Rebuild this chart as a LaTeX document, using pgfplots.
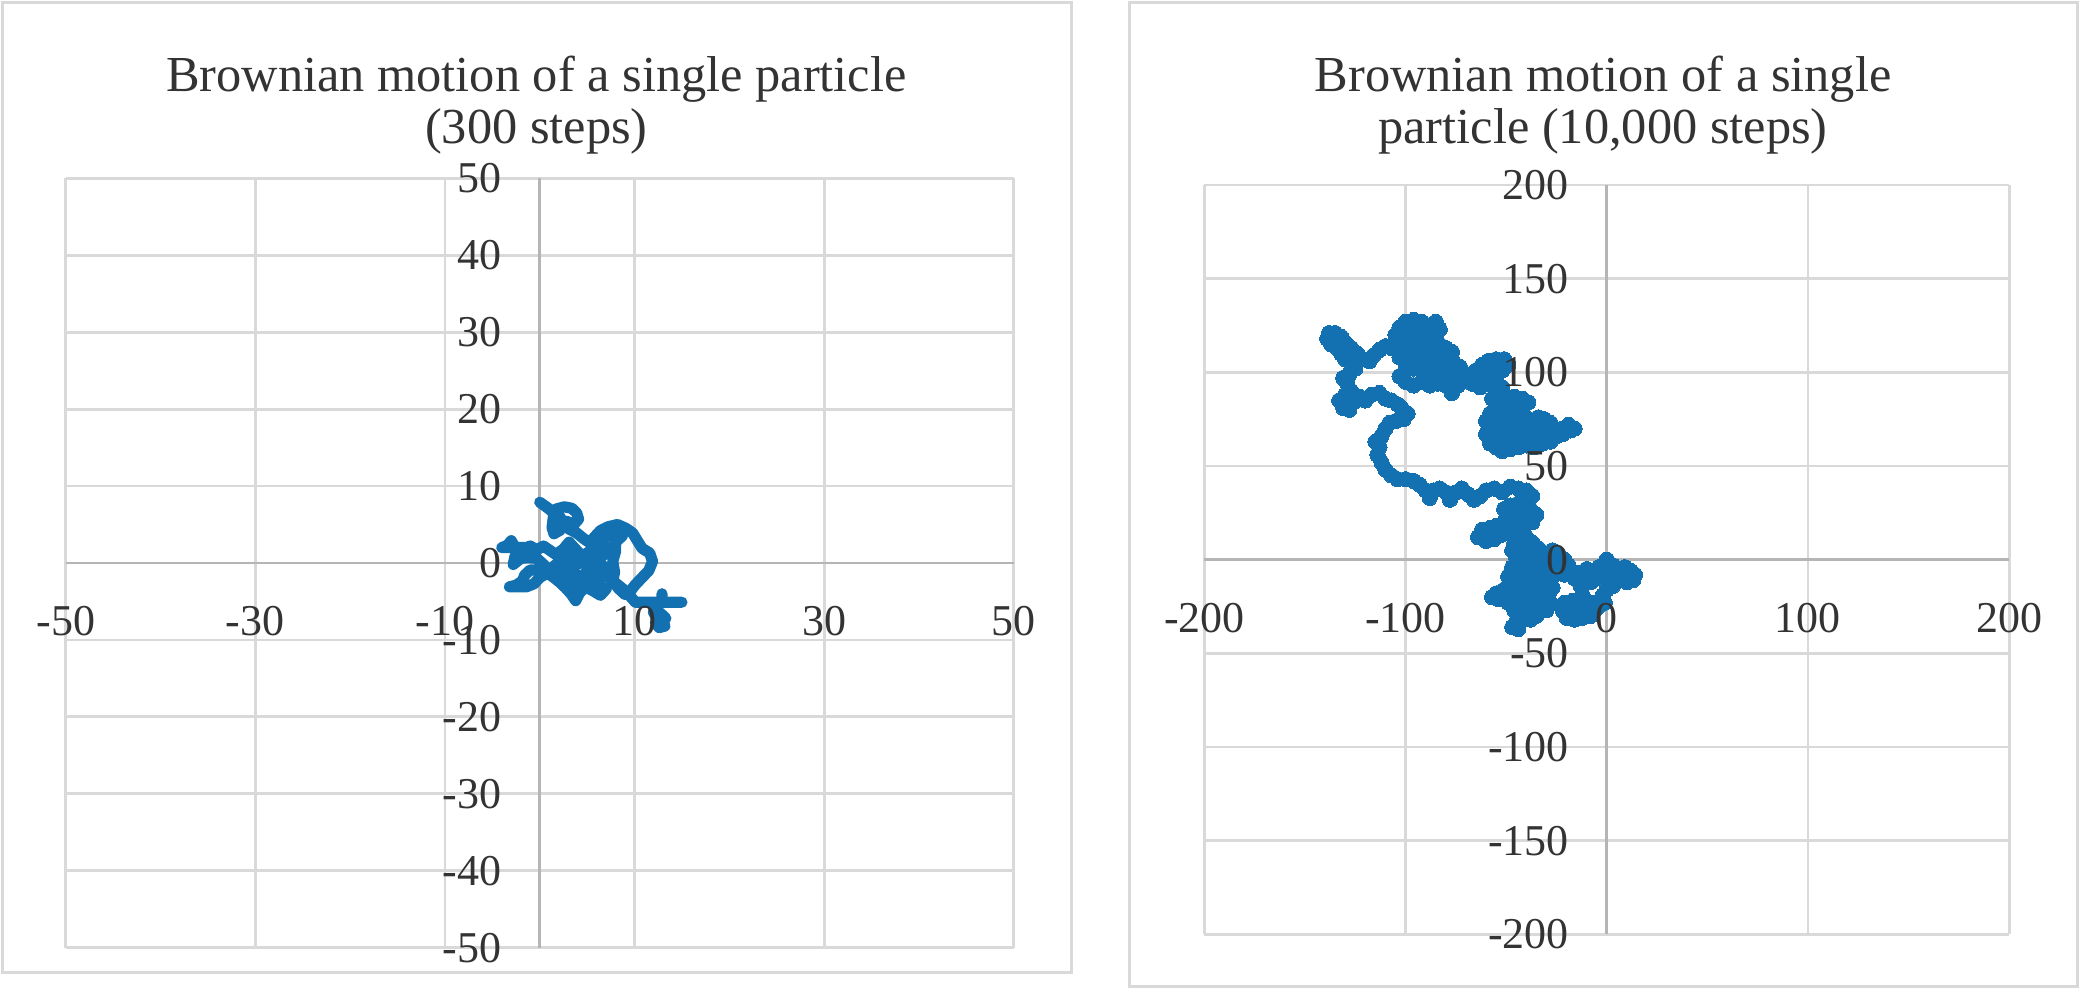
\documentclass[border=0pt]{standalone}
\usepackage{fontspec}
\setmainfont{Liberation Serif}
\usepackage{pgfplots}
\pgfplotsset{compat=1.18}
\definecolor{textgray}{HTML}{333333}
\definecolor{gridgray}{HTML}{D9D9D9}
\definecolor{axisgray}{HTML}{B5B5B5}
\definecolor{series}{HTML}{1471B1}
\pgfplotsset{
  bmbase/.style={
    scale only axis, anchor=south west,
    axis lines=middle,
    major tick length=0pt,
    hide obscured x ticks=false, hide obscured y ticks=false,
    tick label style={font=\fontsize{11}{13}\selectfont, text=textgray},
    xticklabel style={anchor=north, yshift=-7.3pt},
    yticklabel style={anchor=east, xshift=-6pt},
  },
  bmgrid/.style={bmbase,
    axis line style={-, draw=axisgray, line width=0.7pt},
    grid=major, major grid style={draw=gridgray, line width=0.7pt},
    xticklabels={}, yticklabels={},
  },
  bmlabels/.style={bmbase,
    axis line style={draw=none},
    grid=none,
  }
}
\begin{document}
\begin{tikzpicture}
\useasboundingbox (0,0) rectangle (520pt,247.25pt);
\draw[gridgray, line width=0.75pt] (0.5pt,4.25pt) rectangle (267.75pt,246.75pt);
\draw[gridgray, line width=0.75pt] (282.3pt,0.75pt) rectangle (519.25pt,246.75pt);
\node[anchor=base, text=textgray, font=\fontsize{12.6}{15}\selectfont] at (134.1pt,224.5pt) {Brownian motion of a single particle};
\node[anchor=base, text=textgray, font=\fontsize{12.6}{15}\selectfont] at (134.1pt,211.4pt) {(300 steps)};
\node[anchor=base, text=textgray, font=\fontsize{12.6}{15}\selectfont] at (400.75pt,224.5pt) {Brownian motion of a single};
\node[anchor=base, text=textgray, font=\fontsize{12.6}{15}\selectfont] at (400.75pt,211.4pt) {particle (10,000 steps)};

% ---------- left chart: 300 steps ----------
\begin{axis}[bmgrid, at={(16.43pt,10.33pt)}, width=237pt, height=192.35pt,
  xmin=-50, xmax=50, ymin=-50, ymax=50,
  xtick={-50,-30,-10,10,30,50},
  ytick={-50,-40,-30,-20,-10,0,10,20,30,40,50}]
\addplot[series, line width=2.8pt, line join=round, line cap=round] coordinates {
(0,7.9) (0.8,7.2) (1.5,6.5) (1.4,5.6) (1.3,4.6) (1.5,3.8) (2.2,4.3) (2.5,5.3) (2.0,6.2) (1.7,7.0)
(2.6,7.3) (3.4,7.1) (3.9,6.5) (4.1,5.7) (3.6,5.0) (2.9,5.4) (3.1,4.4) (3.9,3.9) (4.6,3.2) (5.3,2.6)
(5.8,3.4) (6.4,4.2) (7.2,4.7) (8.2,5.0) (9.1,4.5) (9.8,3.9) (10.3,2.9) (10.8,1.9) (11.6,1.3) (11.9,0.2)
(11.5,-1.0) (10.8,-1.9) (10.1,-2.8) (9.6,-3.6) (9.0,-4.1) (8.3,-3.3) (7.7,-2.3) (7.9,-1.2) (7.7,0.2) (8.0,1.5)
(8.0,2.7) (8.7,3.5) (7.9,4.0) (7.1,3.5) (6.5,2.6) (7.3,1.8) (6.7,1.0) (6.0,0.3) (6.8,-0.5) (7.4,-1.3)
(6.6,-1.9) (5.8,-1.1) (5.0,-0.3) (4.3,0.5) (5.0,1.3) (5.8,1.9) (6.4,1.1) (5.8,0.2) (5.2,-0.9) (4.5,-1.7)
(5.3,-2.5) (6.1,-2.9) (7.0,-3.4) (6.4,-4.2) (5.6,-3.6) (4.8,-3.1) (4.2,-3.9) (3.8,-4.9) (3.3,-4.0) (2.7,-3.2)
(2.1,-2.5) (1.5,-1.9) (0.8,-1.3) (0.0,-1.9) (-0.6,-2.7) (-1.4,-3.1) (-2.3,-3.1) (-3.2,-3.1) (-2.5,-2.9) (-1.8,-2.3)
(-1.6,-1.6) (-1.0,-0.9) (-0.2,-0.9) (0.5,-0.3) (-0.3,0.6) (-1.2,0.7) (-2.0,0.6) (-2.8,-0.2) (-2.6,0.9) (-2.0,1.6)
(-1.4,2.0) (-2.2,2.0) (-3.0,2.0) (-4.0,2.0) (-3.4,2.3) (-3.0,2.9) (-2.7,2.2) (-1.8,1.8) (-1.0,2.2) (-0.3,1.7)
(0.4,2.2) (1.0,1.7) (1.7,1.1) (2.5,1.8) (3.1,2.7) (3.7,1.9) (4.3,1.1) (3.6,0.3) (2.9,-0.4) (3.6,-1.2)
(4.4,-2.2) (3.6,-2.8) (2.8,-2.0) (2.2,-1.2) (1.5,-0.4) (2.3,0.3) (3.1,0.9) (4.0,-0.2) (4.8,0.6) (5.5,1.2)
(6.2,2.0) (5.5,-0.2) (6.3,-1.0) (5.5,-1.6) (5.0,0.6) (5.8,-0.4) (6.6,-1.2) (7.4,-2.0) (8.2,-2.8) (9.0,-3.6)
(9.6,-4.4) (10.1,-5.1) (11.0,-5.1) (12.0,-5.1) (12.9,-5.1) (12.9,-4.0) (12.9,-5.1) (14.0,-5.1) (15.0,-5.1) (14.0,-5.1)
(13.0,-5.1) (12.2,-5.6) (12.0,-6.4) (12.4,-7.2) (12.9,-7.8) (13.3,-7.2) (12.8,-6.6) (12.4,-7.6) (13.2,-8.2) (12.6,-8.4)
(12.2,-7.8)
};
\end{axis}
\begin{axis}[bmlabels, at={(16.43pt,10.33pt)}, width=237pt, height=192.35pt,
  xmin=-50, xmax=50, ymin=-50, ymax=50,
  xtick={-50,-30,-10,10,30,50}, xticklabels={-50,-30,-10,10,30,50},
  ytick={-50,-40,-30,-20,-10,0,10,20,30,40,50},
  yticklabels={-50,-40,-30,-20,-10,0,10,20,30,40,50}]
\end{axis}

% ---------- right chart: 10,000 steps ----------
\begin{axis}[bmgrid, at={(301.1pt,13.68pt)}, width=201.2pt, height=187.3pt,
  xmin=-200, xmax=200, ymin=-200, ymax=200,
  xtick={-200,-100,0,100,200},
  ytick={-200,-150,-100,-50,0,50,100,150,200}]
\addplot[series, line width=3.3pt, line join=round, line cap=round, mark=*, mark size=1.9pt, mark options={draw=series, fill=series, line width=0pt}] coordinates {
(0,0) (3,-3) (6,-5) (9,-4) (12,-6) (14,-8) (13,-11) (10,-12) (7,-10) (4,-12)
(1,-10) (-2,-8) (-5,-10) (-8,-12) (-11,-10) (-13,-7) (-10,-5) (-7,-6) (-4,-4) (-1,-5)
(2,-7) (5,-8) (3,-14) (0,-16) (-2,-19) (-1,-23) (-4,-25) (-7,-23) (-10,-24) (-13,-22)
(-17,-22) (-21,-23) (-22,-27) (-20,-31) (-16,-32) (-12,-31) (-8,-30) (-6,-27) (-10,-27) (-14,-28)
(-18,-27) (-15,-24) (-12,-19) (-13,-14) (-16,-10) (-18,-6) (-21,-8) (-24,-5) (-27,-2) (-29,2)
(-27,5) (-24,3) (-21,0) (-19,-3) (-22,-6) (-26,-8) (-29,-6) (-31,-9) (-34,-5) (-37,-1)
(-40,3) (-43,6) (-46,9) (-44,13) (-40,12) (-37,9) (-34,6) (-31,2) (-33,-3) (-36,-7)
(-39,-4) (-42,-1) (-45,1) (-47,5) (-44,8) (-41,-6) (-38,-10) (-35,-13) (-32,-16) (-29,-19)
(-28,-23) (-30,-27) (-33,-25) (-36,-22) (-39,-18) (-42,-14) (-45,-11) (-48,-13) (-51,-16) (-55,-18)
(-57,-20) (-54,-21) (-50,-20) (-47,-22) (-44,-24) (-41,-27) (-38,-28) (-35,-30) (-38,-32) (-42,-31)
(-45,-33) (-47,-36) (-44,-37) (-43,-33) (-40,-30) (-37,-26) (-34,-21) (-31,-24) (-30,-19) (-32,-13)
(-35,-17) (-38,-14) (-41,-10) (-44,-7) (-47,-4) (-49,-9) (-47,-16) (-49,-23) (-46,-27) (-43,-21)
(-45,-15) (-42,-10) (-39,-13) (-36,-18) (-33,-22) (-30,-13) (-28,-9) (-27,-15) (-29,-5) (-32,-1)
(-35,3) (-38,6) (-42,-3) (-39,1) (-41,7) (-44,11) (-47,14) (-50,16)
(-53,13) (-56,11) (-60,10) (-64,12) (-62,16) (-58,17) (-55,18) (-51,20) (-48,18) (-45,16)
(-41,18) (-37,20) (-35,24) (-38,27) (-42,25) (-45,22) (-48,24) (-51,27) (-48,29) (-44,30)
(-40,31) (-37,34) (-40,37) (-44,38) (-48,39) (-52,36) (-56,38) (-60,37) (-63,34) (-66,32)
(-69,35) (-72,38) (-75,36) (-78,32) (-80,36) (-83,38) (-86,37) (-88,33) (-90,37) (-93,40)
(-96,42) (-100,43) (-104,43) (-107,45) (-110,48) (-112,52) (-114,56) (-113,60) (-115,63) (-112,66)
(-110,70) (-108,73) (-105,74) (-101,75) (-99,78) (-102,81) (-104,83) (-107,85) (-110,86) (-113,89)
(-117,88) (-120,85) (-123,87) (-126,84) (-128,80) (-131,81) (-133,85) (-130,88) (-127,90) (-129,94)
(-131,97) (-128,99) (-125,102) (-127,105) (-130,107) (-132,110) (-134,113) (-137,115) (-139,118) (-138,121)
(-135,121) (-132,119) (-130,116) (-127,113) (-124,110) (-121,107) (-118,106) (-116,109) (-113,112) (-110,114)
(-107,113) (-105,116) (-105,120) (-103,124) (-100,127) (-96,128) (-92,127) (-88,125) (-85,127) (-83,123)
(-87,121) (-91,122) (-95,123) (-99,121) (-102,118) (-100,115) (-96,117) (-92,116) (-88,117) (-84,116)
(-80,113) (-77,111) (-81,109) (-85,111) (-89,112) (-93,112) (-97,112) (-101,111) (-103,108) (-100,105)
(-96,107) (-92,106) (-88,107) (-84,106) (-80,107) (-76,105) (-73,103) (-76,100) (-80,101) (-84,102)
(-88,101) (-92,101) (-96,102) (-100,101) (-103,98) (-100,95) (-96,93) (-92,95) (-88,93) (-84,94)
(-80,93) (-77,89) (-74,93) (-71,96) (-68,99) (-65,101) (-62,104) (-59,106) (-55,107) (-51,107)
(-49,104) (-52,101) (-56,100) (-60,99) (-64,96) (-67,94) (-63,92) (-59,94) (-55,95) (-52,92)
(-55,89) (-57,86) (-54,88) (-50,85) (-46,87) (-42,86) (-39,84) (-43,81) (-47,82) (-51,80)
(-55,81) (-58,78) (-60,74) (-57,72) (-53,75) (-49,77) (-45,76) (-41,77) (-38,74) (-34,76)
(-31,75) (-28,73) (-32,71) (-36,70) (-40,71) (-44,70) (-48,71) (-52,70) (-56,69) (-60,67)
(-58,64) (-54,65) (-50,66) (-46,65) (-42,66) (-38,65) (-34,67) (-30,68) (-26,69) (-22,67)
(-18,69) (-16,70) (-19,72) (-22,70) (-25,66) (-28,63) (-32,62) (-36,60) (-40,61) (-44,60)
(-48,59) (-52,58) (-55,60) (-58,62)
};
\end{axis}
\begin{axis}[bmlabels, at={(301.1pt,13.68pt)}, width=201.2pt, height=187.3pt,
  xmin=-200, xmax=200, ymin=-200, ymax=200,
  xtick={-200,-100,0,100,200}, xticklabels={-200,-100,0,100,200},
  ytick={-200,-150,-100,-50,0,50,100,150,200},
  yticklabels={-200,-150,-100,-50,0,50,100,150,200}]
\end{axis}
\end{tikzpicture}
\end{document}
